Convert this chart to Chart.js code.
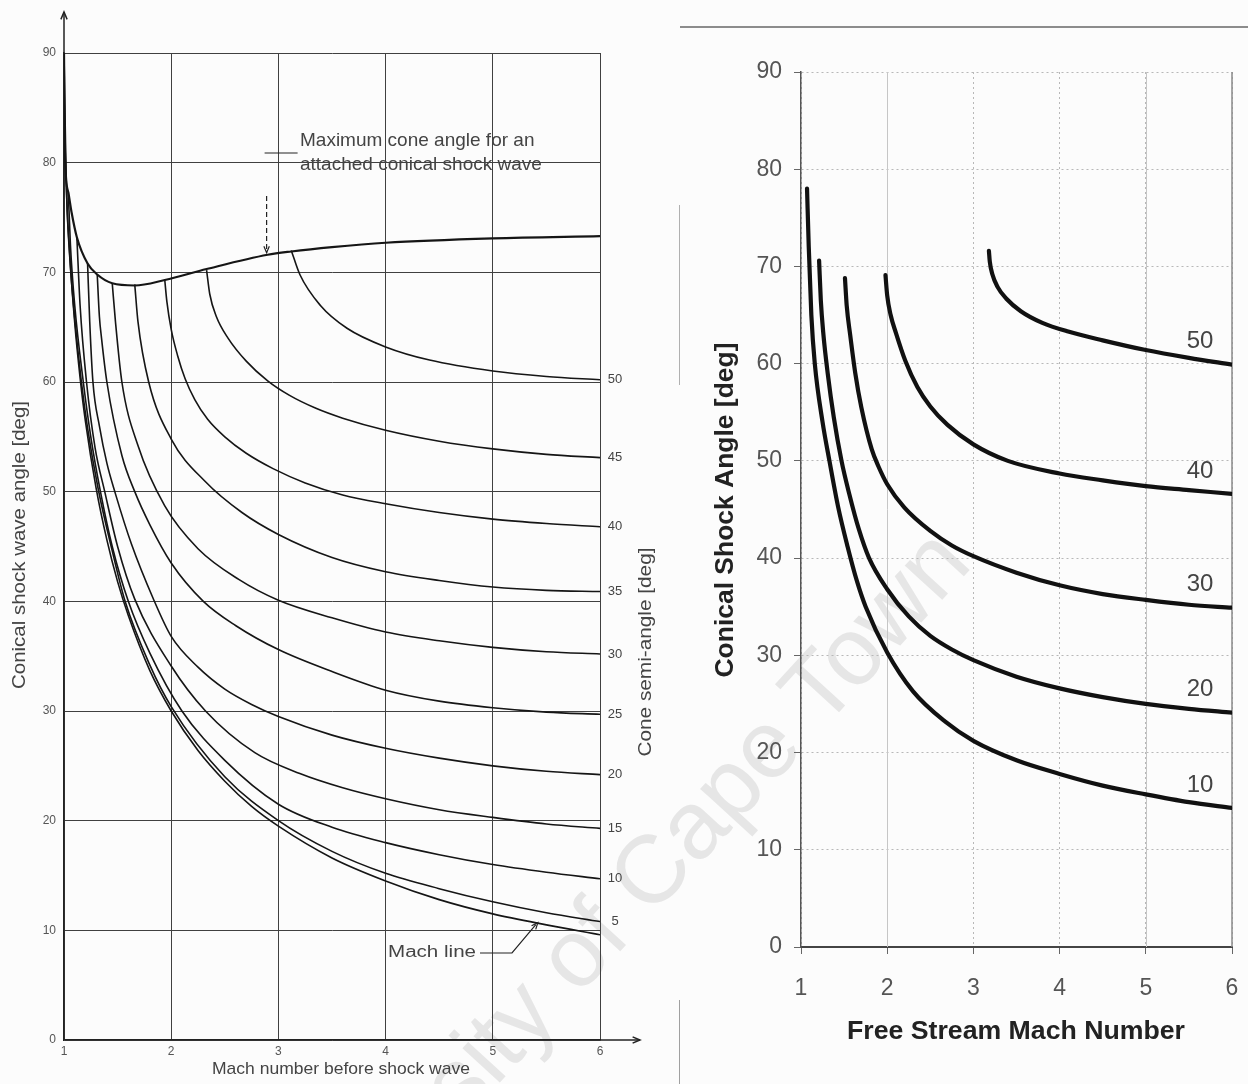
<!DOCTYPE html>
<html>
<head>
<meta charset="utf-8">
<title>Conical shock wave angle charts</title>
<script src="https://cdn.jsdelivr.net/npm/chart.js@4.4.1/dist/chart.umd.min.js"></script>
<style>
  html, body { margin: 0; padding: 0; background: #fcfcfc; }
  #page { position: relative; width: 1248px; height: 1084px; overflow: hidden; background: #fcfcfc; }
  canvas { position: absolute; top: 0; z-index: 2; }
  #left { left: 0; }
  #right { left: 660px; }
  .scan { position: absolute; z-index: 1; }
  #wm {
    position: absolute; z-index: 1; left: -1055px; top: 490px; width: 2000px; height: 98px;
    line-height: 98px; text-align: right; white-space: nowrap;
    font: 96px "Liberation Sans", Arial, sans-serif; color: #e6e6e6;
    transform-origin: 100% 50%; transform: rotate(-47.5deg);
  }
</style>
</head>
<body>
<div id="page">
  <div id="wm">University of Cape Town</div>
  <div class="scan" style="left:680px; top:26px; width:568px; height:2px; background:#8c8c8c;"></div>
  <div class="scan" style="left:679px; top:205px; width:1px; height:180px; background:#b0b0b0;"></div>
  <div class="scan" style="left:679px; top:1000px; width:1px; height:84px; background:#a0a0a0;"></div>
  <canvas id="left" width="660" height="1084"></canvas>
  <canvas id="right" width="588" height="1084"></canvas>
</div>
<script>
// ---- left chart: conical shock wave angle vs Mach number ----
const coneAngles = [5, 10, 15, 20, 25, 30, 35, 40, 45, 50];

const machLine = [[1.0,90],[1.02,78.6],[1.05,72.2],[1.1,65.4],[1.15,60.4],[1.2,56.4],[1.3,50.3],[1.4,45.6],[1.5,41.8],[1.6,38.7],[1.8,33.7],[2.0,30.0],[2.25,26.4],[2.5,23.6],[2.75,21.3],[3.0,19.5],[3.5,16.6],[4.0,14.5],[4.5,12.8],[5.0,11.5],[5.5,10.5],[6.0,9.6]];
const maxCone = [[1.0,90],[1.01,80.5],[1.04,77.3],[1.07,75.5],[1.12,73.2],[1.22,70.8],[1.31,69.8],[1.45,69.0],[1.66,68.8],[1.94,69.3],[2.33,70.3],[2.9,71.6],[3.12,71.9],[3.5,72.3],[4.0,72.7],[5.0,73.1],[6.0,73.3]];

const cone5  = [[1.01,81.5],[1.03,75.5],[1.06,70.5],[1.1,65.8],[1.16,60.2],[1.22,55.8],[1.32,50.2],[1.45,44.6],[1.57,40.0],[1.8,34.2],[2.0,30.4],[2.5,24.0],[3.0,20.0],[3.5,17.2],[4.0,15.2],[4.5,13.8],[5.0,12.6],[5.5,11.6],[6.0,10.8]];
const cone10 = [[1.04,77.3],[1.06,72.5],[1.1,67.0],[1.18,60.0],[1.25,55.0],[1.34,50.0],[1.45,45.0],[1.6,40.0],[1.8,35.3],[2.1,30.0],[2.5,25.5],[3.0,21.5],[3.5,19.4],[4.0,18.0],[4.5,16.9],[5.0,16.0],[5.5,15.3],[6.0,14.7]];
const cone15 = [[1.12,73.2],[1.15,67.0],[1.21,60.0],[1.29,54.0],[1.38,50.0],[1.5,45.0],[1.66,40.2],[2.0,34.1],[2.32,30.0],[2.78,26.2],[3.2,24.3],[3.6,23.0],[4.0,22.0],[4.5,21.0],[5.0,20.3],[5.5,19.7],[6.0,19.3]];
const cone20 = [[1.22,70.8],[1.24,65.5],[1.27,60.0],[1.33,56.0],[1.4,52.6],[1.48,49.8],[1.63,45.2],[1.83,40.3],[2.0,36.8],[2.25,34.0],[2.5,32.0],[2.75,30.6],[3.0,29.5],[3.5,27.8],[4.0,26.6],[4.5,25.7],[5.0,25.0],[5.5,24.5],[6.0,24.2]];
const cone25 = [[1.31,69.8],[1.33,66.0],[1.35,64.0],[1.4,60.0],[1.54,53.3],[1.66,50.0],[1.8,47.0],[2.0,43.5],[2.3,40.0],[2.6,37.8],[3.0,35.6],[3.5,33.6],[4.0,31.9],[4.5,30.9],[5.0,30.3],[5.5,29.9],[6.0,29.7]];
const cone30 = [[1.45,69.0],[1.48,65.5],[1.54,60.0],[1.69,54.2],[1.94,48.7],[2.25,44.8],[2.63,42.0],[3.0,40.1],[3.5,38.5],[4.0,37.2],[4.5,36.4],[5.0,35.8],[5.5,35.4],[6.0,35.2]];
const cone35 = [[1.66,68.9],[1.69,65.5],[1.79,60.0],[2.0,54.8],[2.32,50.9],[2.66,48.1],[3.0,46.1],[3.5,44.0],[4.0,42.7],[4.5,41.9],[5.0,41.3],[5.5,41.0],[6.0,40.9]];
const cone40 = [[1.94,69.3],[1.96,67.3],[2.0,64.8],[2.06,62.4],[2.13,60.3],[2.22,58.4],[2.34,56.6],[2.5,55.0],[2.7,53.5],[2.95,52.1],[3.25,50.8],[3.6,49.7],[4.0,48.9],[4.5,48.1],[5.0,47.5],[5.5,47.1],[6.0,46.8]];
const cone45 = [[2.33,70.2],[2.36,68.0],[2.42,66.0],[2.53,64.0],[2.7,61.9],[2.9,60.1],[3.1,58.8],[3.35,57.6],[3.6,56.7],[4.0,55.6],[4.5,54.6],[5.0,53.9],[5.5,53.4],[6.0,53.1]];
const cone50 = [[3.12,72.0],[3.2,69.8],[3.39,67.0],[3.64,64.9],[4.0,63.2],[4.41,62.0],[5.0,61.0],[5.5,60.5],[6.0,60.2]];
const leftCurves = [cone5, cone10, cone15, cone20, cone25, cone30, cone35, cone40, cone45, cone50];

// ---- right chart: conical shock angle vs free stream Mach number ----
const rightAngles = [10, 20, 30, 40, 50];
const r10 = [[1.07,78.0],[1.09,72.0],[1.12,65.0],[1.16,60.0],[1.25,54.0],[1.33,50.0],[1.43,45.3],[1.54,41.2],[1.65,37.6],[1.75,35.0],[2.0,30.3],[2.3,26.3],[2.67,23.2],[3.0,21.2],[3.5,19.2],[4.0,17.8],[4.5,16.6],[5.0,15.7],[5.5,14.9],[6.0,14.3]];
const r20 = [[1.21,70.6],[1.23,66.5],[1.26,63.0],[1.31,59.0],[1.38,54.5],[1.47,50.0],[1.56,46.6],[1.67,43.0],[1.79,40.0],[2.0,36.8],[2.25,34.0],[2.5,32.0],[2.75,30.6],[3.0,29.5],[3.5,27.8],[4.0,26.6],[4.5,25.7],[5.0,25.0],[5.5,24.5],[6.0,24.1]];
const r30 = [[1.51,68.8],[1.53,66.0],[1.57,63.0],[1.63,59.0],[1.7,55.5],[1.82,51.2],[1.9,49.4],[2.0,47.6],[2.2,45.2],[2.5,42.8],[2.75,41.3],[3.0,40.2],[3.5,38.5],[4.0,37.2],[4.5,36.3],[5.0,35.7],[5.5,35.2],[6.0,34.9]];
const r40 = [[1.98,69.1],[2.0,67.0],[2.04,65.0],[2.1,63.2],[2.21,60.3],[2.35,57.6],[2.5,55.6],[2.7,53.7],[3.0,51.7],[3.4,50.0],[4.0,48.7],[4.5,48.0],[5.0,47.4],[5.5,47.0],[6.0,46.6]];
const r50 = [[3.18,71.6],[3.19,70.5],[3.22,69.2],[3.28,67.9],[3.38,66.7],[3.55,65.4],[3.8,64.2],[4.1,63.3],[4.5,62.4],[5.0,61.4],[5.5,60.6],[6.0,59.9]];
const rightCurves = [r10, r20, r30, r40, r50];

const FONT = '"Liberation Sans", Arial, sans-serif';
const toXY = c => c.map(p => ({ x: p[0], y: p[1] }));

function txt(ctx, s, x, y, o) {
  ctx.save();
  ctx.font = (o.bold ? 'bold ' : '') + o.size + 'px ' + FONT;
  ctx.fillStyle = o.color || '#333';
  ctx.textAlign = o.align || 'center';
  ctx.textBaseline = 'middle';
  ctx.translate(x, y);
  if (o.rotate) ctx.rotate(o.rotate);
  if (o.width) ctx.scale(o.width / ctx.measureText(s).width, 1);
  ctx.fillText(s, 0, 0);
  ctx.restore();
}

function arrowHead(ctx, x, y, ang, len) {
  ctx.beginPath();
  ctx.moveTo(x - len * Math.cos(ang - 0.4), y - len * Math.sin(ang - 0.4));
  ctx.lineTo(x, y);
  ctx.lineTo(x - len * Math.cos(ang + 0.4), y - len * Math.sin(ang + 0.4));
  ctx.stroke();
}

const leftDecor = {
  id: 'leftDecor',
  afterDraw(chart) {
    const { ctx, chartArea: a, scales: { x, y } } = chart;
    ctx.save();
    ctx.strokeStyle = '#222';
    ctx.lineWidth = 1.5;
    // axis arrows
    ctx.beginPath(); ctx.moveTo(a.left, a.top); ctx.lineTo(a.left, a.top - 41); ctx.stroke();
    arrowHead(ctx, a.left, a.top - 41, -Math.PI / 2, 8);
    ctx.beginPath(); ctx.moveTo(a.right, a.bottom); ctx.lineTo(a.right + 40, a.bottom); ctx.stroke();
    arrowHead(ctx, a.right + 40, a.bottom, 0, 8);

    // max cone angle annotation
    const tx = x.getPixelForValue(2.89), ty = y.getPixelForValue(71.6);
    ctx.lineWidth = 1.2;
    ctx.beginPath(); ctx.moveTo(tx - 2, 153); ctx.lineTo(tx + 31, 153); ctx.stroke();
    ctx.setLineDash([5, 3]);
    ctx.beginPath(); ctx.moveTo(tx, 196); ctx.lineTo(tx, ty - 2); ctx.stroke();
    ctx.setLineDash([]);
    arrowHead(ctx, tx, ty - 2, Math.PI / 2, 7);
    txt(ctx, 'Maximum cone angle for an', 300, 141, { size: 19, color: '#444', align: 'left' });
    txt(ctx, 'attached conical shock wave', 300, 165, { size: 19, color: '#444', align: 'left' });

    // Mach line annotation
    const mx = x.getPixelForValue(5.42), my = y.getPixelForValue(10.7);
    ctx.beginPath(); ctx.moveTo(480, 953); ctx.lineTo(512, 953); ctx.lineTo(mx - 2, my + 2); ctx.stroke();
    arrowHead(ctx, mx, my, Math.atan2(my - 953, mx - 512), 7);
    txt(ctx, 'Mach line', 432, 953, { size: 16, color: '#444', width: 88 });

    // curve labels at the right end of each cone curve
    leftCurves.forEach((c, i) => {
      txt(ctx, String(coneAngles[i]), a.right + 15, y.getPixelForValue(c[c.length - 1][1]), { size: 13, color: '#444' });
    });

    // axis titles
    txt(ctx, 'Conical shock wave angle [deg]', 20, 545, { size: 18, color: '#444', rotate: -Math.PI / 2, width: 288 });
    txt(ctx, 'Cone semi-angle [deg]', 646, 652, { size: 18, color: '#444', rotate: -Math.PI / 2, width: 209 });
    txt(ctx, 'Mach number before shock wave', 341, 1069, { size: 17, color: '#444', width: 258 });
    ctx.restore();
  }
};

const leftSets = [
  { data: toXY(machLine), borderWidth: 1.6 },
  { data: toXY(maxCone), borderWidth: 2.2 }
].concat(leftCurves.map(c => ({ data: toXY(c), borderWidth: 1.6 })));

new Chart(document.getElementById('left'), {
  type: 'scatter',
  data: {
    datasets: leftSets.map(d => Object.assign({
      showLine: true, pointRadius: 0, borderColor: '#151515', cubicInterpolationMode: 'monotone'
    }, d))
  },
  options: {
    responsive: false,
    animation: false,
    layout: { padding: { top: 53, right: 60, left: 0, bottom: 0 } },
    plugins: { legend: { display: false }, tooltip: { enabled: false } },
    scales: {
      x: {
        type: 'linear', min: 1, max: 6,
        afterFit: s => { s.height = 44; },
        ticks: { stepSize: 1, padding: 4, color: '#555', font: { size: 12, family: FONT } },
        grid: { color: '#404040', lineWidth: 1, drawTicks: false },
        border: { color: '#222', width: 1.6 }
      },
      y: {
        min: 0, max: 90,
        afterFit: s => { s.width = 64; },
        ticks: { stepSize: 10, padding: 8, color: '#555', font: { size: 12, family: FONT } },
        grid: { color: '#404040', lineWidth: 1, drawTicks: false },
        border: { color: '#222', width: 1.6 }
      }
    }
  },
  plugins: [leftDecor]
});

const rightDecor = {
  id: 'rightDecor',
  beforeDatasetsDraw(chart) {
    const { ctx, chartArea: a, scales: { x } } = chart;
    ctx.save();
    ctx.strokeStyle = '#c6c6c6';
    ctx.lineWidth = 1;
    [2, 5].forEach(v => {
      const px = Math.round(x.getPixelForValue(v)) + 0.5;
      ctx.beginPath(); ctx.moveTo(px, a.top); ctx.lineTo(px, a.bottom); ctx.stroke();
    });
    ctx.strokeStyle = '#8a8a8a';
    ctx.lineWidth = 1.5;
    ctx.beginPath(); ctx.moveTo(a.right, a.top); ctx.lineTo(a.right, a.bottom); ctx.stroke();
    ctx.restore();
  },
  afterDraw(chart) {
    const { ctx, chartArea: a, scales: { y } } = chart;
    rightCurves.forEach((c, i) => {
      txt(ctx, String(rightAngles[i]), a.right - 32, y.getPixelForValue(c[c.length - 1][1]) - 23, { size: 24, color: '#444' });
    });
    txt(ctx, 'Conical Shock Angle [deg]', 66, 510, { size: 25, bold: true, color: '#222', rotate: -Math.PI / 2, width: 335 });
    txt(ctx, 'Free Stream Mach Number', 356, 1032, { size: 25, bold: true, color: '#222', width: 338 });
  }
};

new Chart(document.getElementById('right'), {
  type: 'scatter',
  data: {
    datasets: rightCurves.map(c => ({
      data: toXY(c), showLine: true, pointRadius: 0, borderColor: '#111', borderWidth: 4.2,
      borderCapStyle: 'round', cubicInterpolationMode: 'monotone'
    }))
  },
  options: {
    responsive: false,
    animation: false,
    layout: { padding: { top: 72, right: 16, left: 0, bottom: 0 } },
    plugins: { legend: { display: false }, tooltip: { enabled: false } },
    scales: {
      x: {
        type: 'linear', min: 1, max: 6,
        afterFit: s => { s.height = 137; s.paddingLeft = 0; s.paddingRight = 0; },
        ticks: { stepSize: 1, padding: 21, color: '#555', font: { size: 23, family: FONT } },
        grid: { color: '#b8b8b8', lineWidth: 1, tickLength: 7, tickColor: '#666' },
        border: { color: '#444', width: 2, dash: [2, 3] }
      },
      y: {
        min: 0, max: 90,
        afterFit: s => { s.width = 141; },
        ticks: { stepSize: 10, padding: 12, color: '#555', font: { size: 23, family: FONT } },
        grid: { color: '#b8b8b8', lineWidth: 1, tickLength: 7, tickColor: '#666' },
        border: { color: '#555', width: 1.5, dash: [2, 3] }
      }
    }
  },
  plugins: [rightDecor]
});
</script>
</body>
</html>
